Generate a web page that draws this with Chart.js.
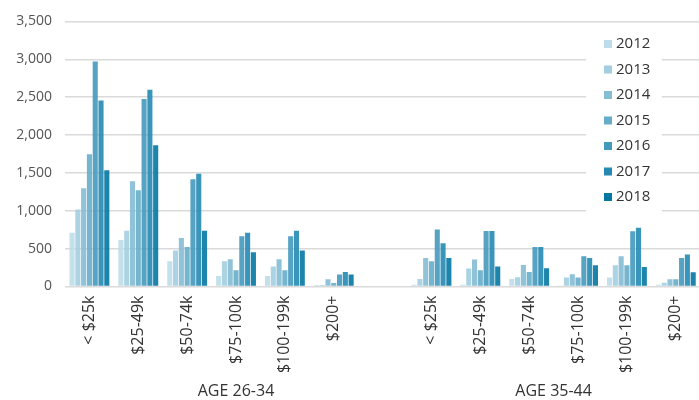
<!DOCTYPE html>
<html>
<head>
<meta charset="utf-8">
<script src="https://cdn.jsdelivr.net/npm/chart.js@4"></script>
<style>
  html, body { margin: 0; padding: 0; background: #fff; overflow: hidden; }
  #wrap { width: 704px; height: 400px; }
</style>
</head>
<body>
<div id="wrap"><canvas id="chart" width="704" height="400"></canvas></div>
<script>
// --- data ---
const categories = ['< $25k', '$25-49k', '$50-74k', '$75-100k', '$100-199k', '$200+', '',
                    '< $25k', '$25-49k', '$50-74k', '$75-100k', '$100-199k', '$200+'];
const years = ['2012', '2013', '2014', '2015', '2016', '2017', '2018'];
const v2012 = [710, 614, 333, 140, 140, 20, null, 24, 24, 98, 8, 118, 22];
const v2013 = [1018, 737, 474, 333, 263, 20, null, 98, 239, 123, 118, 281, 48];
const v2014 = [1298, 1390, 640, 360, 360, 95, null, 377, 355, 285, 162, 399, 96];
const v2015 = [1746, 1272, 522, 215, 215, 45, null, 333, 215, 193, 118, 281, 96];
const v2016 = [2969, 2474, 1417, 662, 662, 160, null, 754, 732, 522, 399, 728, 377];
const v2017 = [2456, 2596, 1487, 711, 737, 190, null, 570, 732, 522, 377, 776, 421];
const v2018 = [1535, 1864, 737, 452, 474, 160, null, 377, 263, 241, 281, 259, 189];
const groupNames = ['AGE 26-34', 'AGE 35-44'];
const groupCenters = [3, 9.5];   // category index under each group title
const yTicks = [0, 500, 1000, 1500, 2000, 2500, 3000, 3500];

const series = [v2012, v2013, v2014, v2015, v2016, v2017, v2018];
const colors = ['#bcdde9', '#a2cee0', '#84bdd4', '#67adc9', '#4499bd', '#2589b2', '#0477a3'];
const FONT = '"Open Sans", "Noto Sans", sans-serif';

// white legend panel drawn over the grid, then the items on top
const legendPanel = {
    id: 'legendPanel',
    beforeDatasetsDraw(chart) {
        const ctx = chart.ctx;
        ctx.save();
        ctx.fillStyle = '#fff';
        ctx.fillRect(586, 27, 76, 187);
        ctx.restore();
    },
    afterDraw(chart) {
        const ctx = chart.ctx;
        ctx.save();
        ctx.font = '15px ' + FONT;
        ctx.textBaseline = 'middle';
        ctx.textAlign = 'left';
        years.forEach((y, i) => {
            const cy = 44 + i * 25.5;
            ctx.fillStyle = colors[i];
            ctx.fillRect(604, cy - 4, 8, 8);
            ctx.fillStyle = '#333';
            ctx.fillText(y, 616, cy);
        });
        ctx.restore();
    }
};

const groupTitles = {
    id: 'groupTitles',
    afterDraw(chart) {
        const ctx = chart.ctx;
        const x = chart.scales.x;
        ctx.save();
        ctx.font = '16px ' + FONT;
        ctx.fillStyle = '#333';
        ctx.textAlign = 'center';
        ctx.textBaseline = 'middle';
        groupNames.forEach((g, i) => {
            ctx.fillText(g, x.getPixelForValue(groupCenters[i]), 391);
        });
        ctx.restore();
    }
};

new Chart(document.getElementById('chart'), {
    type: 'bar',
    data: {
        labels: categories,
        datasets: years.map((y, i) => ({
            label: y,
            data: series[i],
            backgroundColor: colors[i] + 'e6',
            borderWidth: 0,
            categoryPercentage: 0.83,
            barPercentage: 0.88
        }))
    },
    options: {
        responsive: false,
        animation: false,
        layout: { padding: { top: 21, left: 0, right: 0, bottom: 0 } },
        plugins: { legend: { display: false }, tooltip: { enabled: false } },
        scales: {
            x: {
                grid: { display: false, drawTicks: false },
                border: { display: false },
                ticks: {
                    color: '#333', font: { family: FONT, size: 16 },
                    minRotation: 90, maxRotation: 90, padding: 9, autoSkip: false
                },
                afterFit(scale) { scale.height = 113.5; }
            },
            y: {
                min: 0, max: 3500,
                afterBuildTicks(scale) { scale.ticks = yTicks.map(v => ({ value: v })); },
                grid: { color: '#dadada', lineWidth: 1.5, drawTicks: false },
                border: { display: false },
                ticks: {
                    color: '#555', font: { family: FONT, size: 14 }, padding: 13,
                    callback: v => v.toLocaleString('en-US')
                },
                afterFit(scale) { scale.width = 65; }
            }
        }
    },
    plugins: [legendPanel, groupTitles]
});
</script>
</body>
</html>
